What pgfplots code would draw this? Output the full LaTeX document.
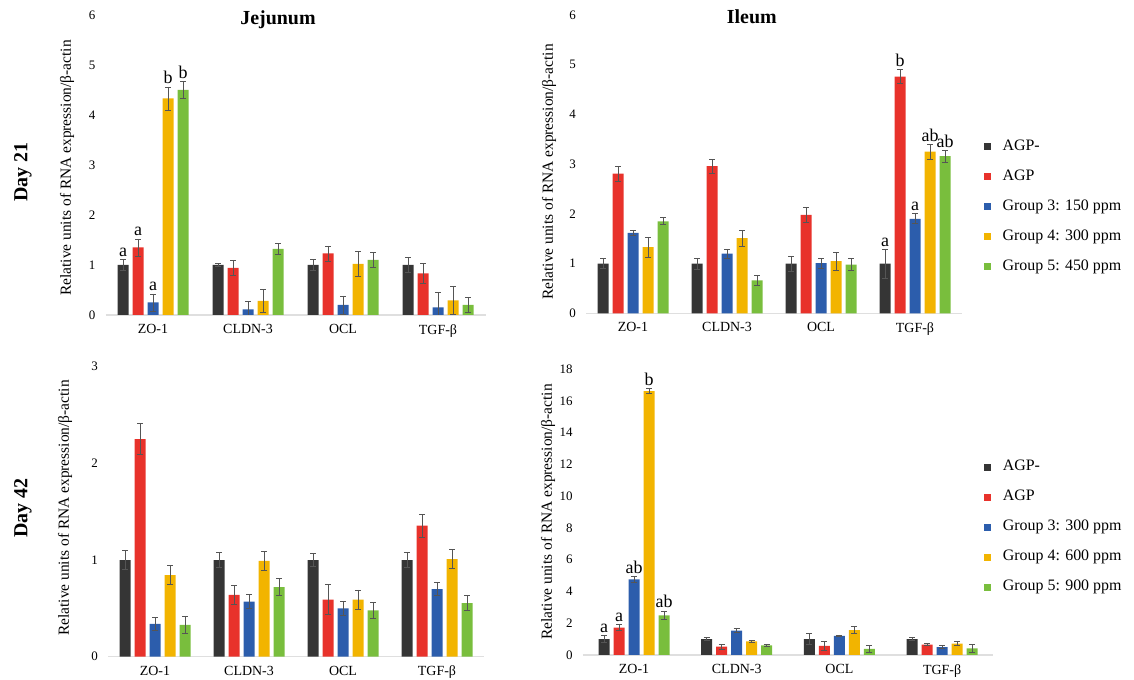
\documentclass[border=0pt]{standalone}
\usepackage{fontspec}
\setmainfont{Liberation Serif}
\usepackage{pgfplots}
\usepackage{pgfplotstable}
\pgfplotsset{compat=1.18}

\definecolor{cK}{HTML}{353535}
\definecolor{cR}{HTML}{E8322B}
\definecolor{cB}{HTML}{2C5DAC}
\definecolor{cY}{HTML}{F2B400}
\definecolor{cG}{HTML}{79BE3D}
\definecolor{cE}{HTML}{555555}

% Jejunum, day 21
\pgfplotstableread{
x v1 e1 l1 v2 e2 l2 v3 e3 l3 v4 e4 l4 v5 e5 l5
0 1.00 0.11 a  1.35 0.17 a  0.25 0.17 a  4.33 0.23 b  4.50 0.17 b
1 1.00 0.03 {} 0.94 0.15 {} 0.11 0.16 {} 0.28 0.23 {} 1.32 0.11 {}
2 1.00 0.11 {} 1.23 0.15 {} 0.20 0.18 {} 1.02 0.25 {} 1.10 0.15 {}
3 1.00 0.15 {} 0.83 0.20 {} 0.15 0.30 {} 0.29 0.28 {} 0.20 0.15 {}
}\tabA
% Ileum, day 21
\pgfplotstableread{
x v1 e1 l1 v2 e2 l2 v3 e3 l3 v4 e4 l4 v5 e5 l5
0 1.00 0.10 {} 2.81 0.15 {} 1.62 0.05 {} 1.33 0.20 {} 1.85 0.07 {}
1 1.00 0.11 {} 2.96 0.14 {} 1.20 0.09 {} 1.51 0.16 {} 0.66 0.10 {}
2 1.00 0.15 {} 1.98 0.15 {} 1.01 0.10 {} 1.05 0.18 {} 0.98 0.12 {}
3 1.00 0.29 a  4.76 0.14 b  1.90 0.10 a  3.25 0.15 ab 3.16 0.12 ab
}\tabB
% Jejunum, day 42
\pgfplotstableread{
x v1 e1 v2 e2 v3 e3 v4 e4 v5 e5
0 1.00 0.10 2.25 0.16 0.34 0.07 0.845 0.10 0.33 0.09
1 1.00 0.08 0.64 0.10 0.57 0.075 0.99 0.10 0.72 0.085
2 1.00 0.07 0.59 0.155 0.50 0.07 0.59 0.10 0.48 0.08
3 1.00 0.08 1.355 0.12 0.70 0.07 1.01 0.10 0.555 0.08
}\tabC
% Ileum, day 42
\pgfplotstableread{
x v1 e1 l1 v2 e2 l2 v3 e3 l3 v4 e4 l4 v5 e5 l5
0 1.00 0.20 a  1.72 0.20 a  4.76 0.17 ab 16.60 0.15 b  2.50 0.27 ab
1 1.00 0.10 {} 0.52 0.17 {} 1.53 0.13 {} 0.86 0.08 {}  0.60 0.08 {}
2 1.00 0.33 {} 0.57 0.27 {} 1.20 0.06 {} 1.57 0.20 {}  0.38 0.23 {}
3 1.00 0.08 {} 0.65 0.08 {} 0.50 0.10 {} 0.71 0.13 {}  0.42 0.25 {}
}\tabD

\pgfplotsset{
  mybars/.style={
    scale only axis, ybar=4bp, bar width=11bp,
    xmin=-0.5, xmax=3.5, ymin=0,
    axis lines*=left,
    x axis line style={draw=gray!25, line width=1.2bp},
    y axis line style={draw=none},
    major tick length=0pt,
    xtick={0,1,2,3}, xticklabels={ZO-1,CLDN-3,OCL,TGF-β},
    xticklabel style={font=\fontsize{14}{14}\selectfont, anchor=north, inner sep=0pt, yshift=-9bp},
    yticklabel style={font=\fontsize{13}{13}\selectfont, anchor=east, inner sep=0pt, xshift=-10bp},
    /pgf/number format/assume math mode=true,
    error bars/y dir=both, error bars/y explicit,
    error bars/error bar style={cE, line width=0.9bp},
    error bars/error mark options={rotate=90, mark size=3bp, line width=0.9bp, cE},
    legend image code/.code={\fill[##1] (0bp,-3.5bp) rectangle (7bp,3.5bp);},
    legend style={draw=none, fill=none, anchor=north west,
      font=\fontsize{16}{16}\selectfont, row sep=15.5bp,
      nodes={inner sep=0pt, text height=11bp, text depth=3.5bp},
      /tikz/every odd column/.append style={column sep=12bp}},
    legend cell align=left,
    title style={font=\bfseries\fontsize{20}{20}\selectfont, anchor=center},
  },
  lab/.style={nodes near coords, point meta=explicit symbolic,
    visualization depends on={\thisrow{#1}\as\myerr},
    every node near coord/.append style={anchor=base, inner sep=0pt,
      font=\fontsize{18}{18}\selectfont, shift={(axis direction cs:0,\myerr)}, yshift=3bp}},
}

\begin{document}
\begin{tikzpicture}
\path[use as bounding box] (0bp,0bp) rectangle (1134bp,680bp);

% ---- Jejunum day 21
\begin{axis}[mybars, at={(105.5bp,365bp)}, anchor=south west, width=380bp, height=300bp,
  ymax=6, ytick={0,1,...,6}, title={Jejunum},
  title style={at={(axis description cs:0.454,1)}, yshift=-11bp}]
\addplot[fill=cK, draw=none, lab=e1] table[x=x, y=v1, y error=e1, meta=l1] {\tabA};
\addplot[fill=cR, draw=none, lab=e2] table[x=x, y=v2, y error=e2, meta=l2] {\tabA};
\addplot[fill=cB, draw=none, lab=e3] table[x=x, y=v3, y error=e3, meta=l3] {\tabA};
\addplot[fill=cY, draw=none, lab=e4] table[x=x, y=v4, y error=e4, meta=l4] {\tabA};
\addplot[fill=cG, draw=none, lab=e5] table[x=x, y=v5, y error=e5, meta=l5] {\tabA};
\end{axis}

% ---- Ileum day 21
\begin{axis}[mybars, at={(586bp,366.7bp)}, anchor=south west, width=376bp, height=298.3bp,
  ymax=6, ytick={0,1,...,6}, title={Ileum},
  title style={at={(axis description cs:0.441,1)}, yshift=-8bp},
  legend style={at={(1.049,0.59)}}]
\addplot[fill=cK, draw=none, lab=e1] table[x=x, y=v1, y error=e1, meta=l1] {\tabB};
\addplot[fill=cR, draw=none, lab=e2] table[x=x, y=v2, y error=e2, meta=l2] {\tabB};
\addplot[fill=cB, draw=none, lab=e3] table[x=x, y=v3, y error=e3, meta=l3] {\tabB};
\addplot[fill=cY, draw=none, lab=e4] table[x=x, y=v4, y error=e4, meta=l4] {\tabB};
\addplot[fill=cG, draw=none, lab=e5] table[x=x, y=v5, y error=e5, meta=l5] {\tabB};
\legend{AGP-, AGP, Group 3: 150 ppm, Group 4: 300 ppm, Group 5: 450 ppm}
\end{axis}

% ---- Jejunum day 42
\begin{axis}[mybars, at={(108bp,23.3bp)}, anchor=south west, width=376bp, height=290bp,
  ymax=3, ytick={0,1,2,3}]
\addplot[fill=cK, draw=none] table[x=x, y=v1, y error=e1] {\tabC};
\addplot[fill=cR, draw=none] table[x=x, y=v2, y error=e2] {\tabC};
\addplot[fill=cB, draw=none] table[x=x, y=v3, y error=e3] {\tabC};
\addplot[fill=cY, draw=none] table[x=x, y=v4, y error=e4] {\tabC};
\addplot[fill=cG, draw=none] table[x=x, y=v5, y error=e5] {\tabC};
\end{axis}

% ---- Ileum day 42
\begin{axis}[mybars, at={(582.7bp,25bp)}, anchor=south west, width=410.7bp, height=286bp,
  ymax=18, ytick={0,2,...,18},
  legend style={at={(0.969,0.69)}}]
\addplot[fill=cK, draw=none, lab=e1] table[x=x, y=v1, y error=e1, meta=l1] {\tabD};
\addplot[fill=cR, draw=none, lab=e2] table[x=x, y=v2, y error=e2, meta=l2] {\tabD};
\addplot[fill=cB, draw=none, lab=e3] table[x=x, y=v3, y error=e3, meta=l3] {\tabD};
\addplot[fill=cY, draw=none, lab=e4] table[x=x, y=v4, y error=e4, meta=l4] {\tabD};
\addplot[fill=cG, draw=none, lab=e5] table[x=x, y=v5, y error=e5, meta=l5] {\tabD};
\legend{AGP-, AGP, Group 3: 300 ppm, Group 4: 600 ppm, Group 5: 900 ppm}
\end{axis}

% ---- row and axis labels
\node[rotate=90, font=\bfseries\fontsize{20}{20}\selectfont] at (23bp,508bp) {Day 21};
\node[rotate=90, font=\bfseries\fontsize{20}{20}\selectfont] at (23bp,172bp) {Day 42};
\node[rotate=90, font=\fontsize{15.5}{15.5}\selectfont] at (67bp,512bp) {Relative units of RNA expression/β-actin};
\node[rotate=90, font=\fontsize{15.5}{15.5}\selectfont] at (65bp,172bp) {Relative units of RNA expression/β-actin};
\node[rotate=90, font=\fontsize{15.5}{15.5}\selectfont] at (549bp,508bp) {Relative units of RNA expression/β-actin};
\node[rotate=90, font=\fontsize{15.5}{15.5}\selectfont] at (548bp,168bp) {Relative units of RNA expression/β-actin};
\end{tikzpicture}
\end{document}
